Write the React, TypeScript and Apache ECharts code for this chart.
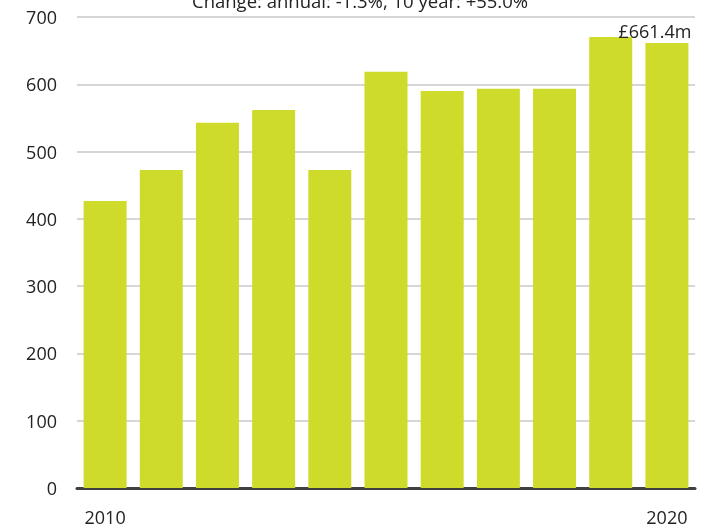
import React, { useEffect, useRef } from "react";
import * as echarts from "echarts";

const years = ["2010", "2011", "2012", "2013", "2014", "2015", "2016", "2017", "2018", "2019", "2020"];
const values = [426.7, 472.5, 542.7, 561.6, 472.5, 618.8, 590.0, 593.4, 593.4, 670.1, 661.4];
const yTicks = [0, 100, 200, 300, 400, 500, 600, 700];
const shownYears = ["2010", "2020"];
const titleText = "Change: annual: -1.3%, 10 year: +55.0%";
const lastLabel = "£661.4m";

const FONT = "'Open Sans', 'Noto Sans', sans-serif";

export default function App() {
  const ref = useRef<HTMLDivElement>(null);
  useEffect(() => {
    if (!ref.current) return;
    const chart = echarts.init(ref.current, null, { renderer: "svg" });
    chart.setOption({
      animation: false,
      title: {
        text: titleText,
        left: 192,
        top: -9,
        padding: 0,
        textStyle: { fontFamily: FONT, fontSize: 18.5, fontWeight: "normal", color: "#222" },
      },
      grid: { left: 77, right: 11, top: 17, bottom: 40, containLabel: false },
      xAxis: {
        type: "category",
        data: years,
        axisTick: { show: false },
        axisLine: { lineStyle: { color: "#404040", width: 3 } },
        axisLabel: {
          interval: (i: number, v: string) => shownYears.includes(v),
          margin: 20,
          fontFamily: FONT,
          fontSize: 18,
          color: "#222",
        },
      },
      yAxis: {
        type: "value",
        min: yTicks[0],
        max: yTicks[yTicks.length - 1],
        interval: 100,
        axisLine: { show: false },
        axisTick: { show: false },
        splitLine: { lineStyle: { color: "#d6d6d6", width: 2 } },
        axisLabel: { margin: 20, fontFamily: FONT, fontSize: 18, color: "#222" },
      },
      series: [
        {
          type: "bar",
          data: values.map((v, i) =>
            i === values.length - 1
              ? {
                  value: v,
                  label: {
                    show: true,
                    position: "top",
                    distance: 3,
                    offset: [-12, 0],
                    formatter: lastLabel,
                    fontFamily: FONT,
                    fontSize: 18,
                    color: "#222",
                  },
                }
              : v
          ),
          barCategoryGap: "23.5%",
          itemStyle: { color: "#CFDB2A" },
        },
      ],
    });
    return () => chart.dispose();
  }, []);
  return <div ref={ref} style={{ position: "fixed", left: 0, top: 0, width: 706, height: 528 }} />;
}
